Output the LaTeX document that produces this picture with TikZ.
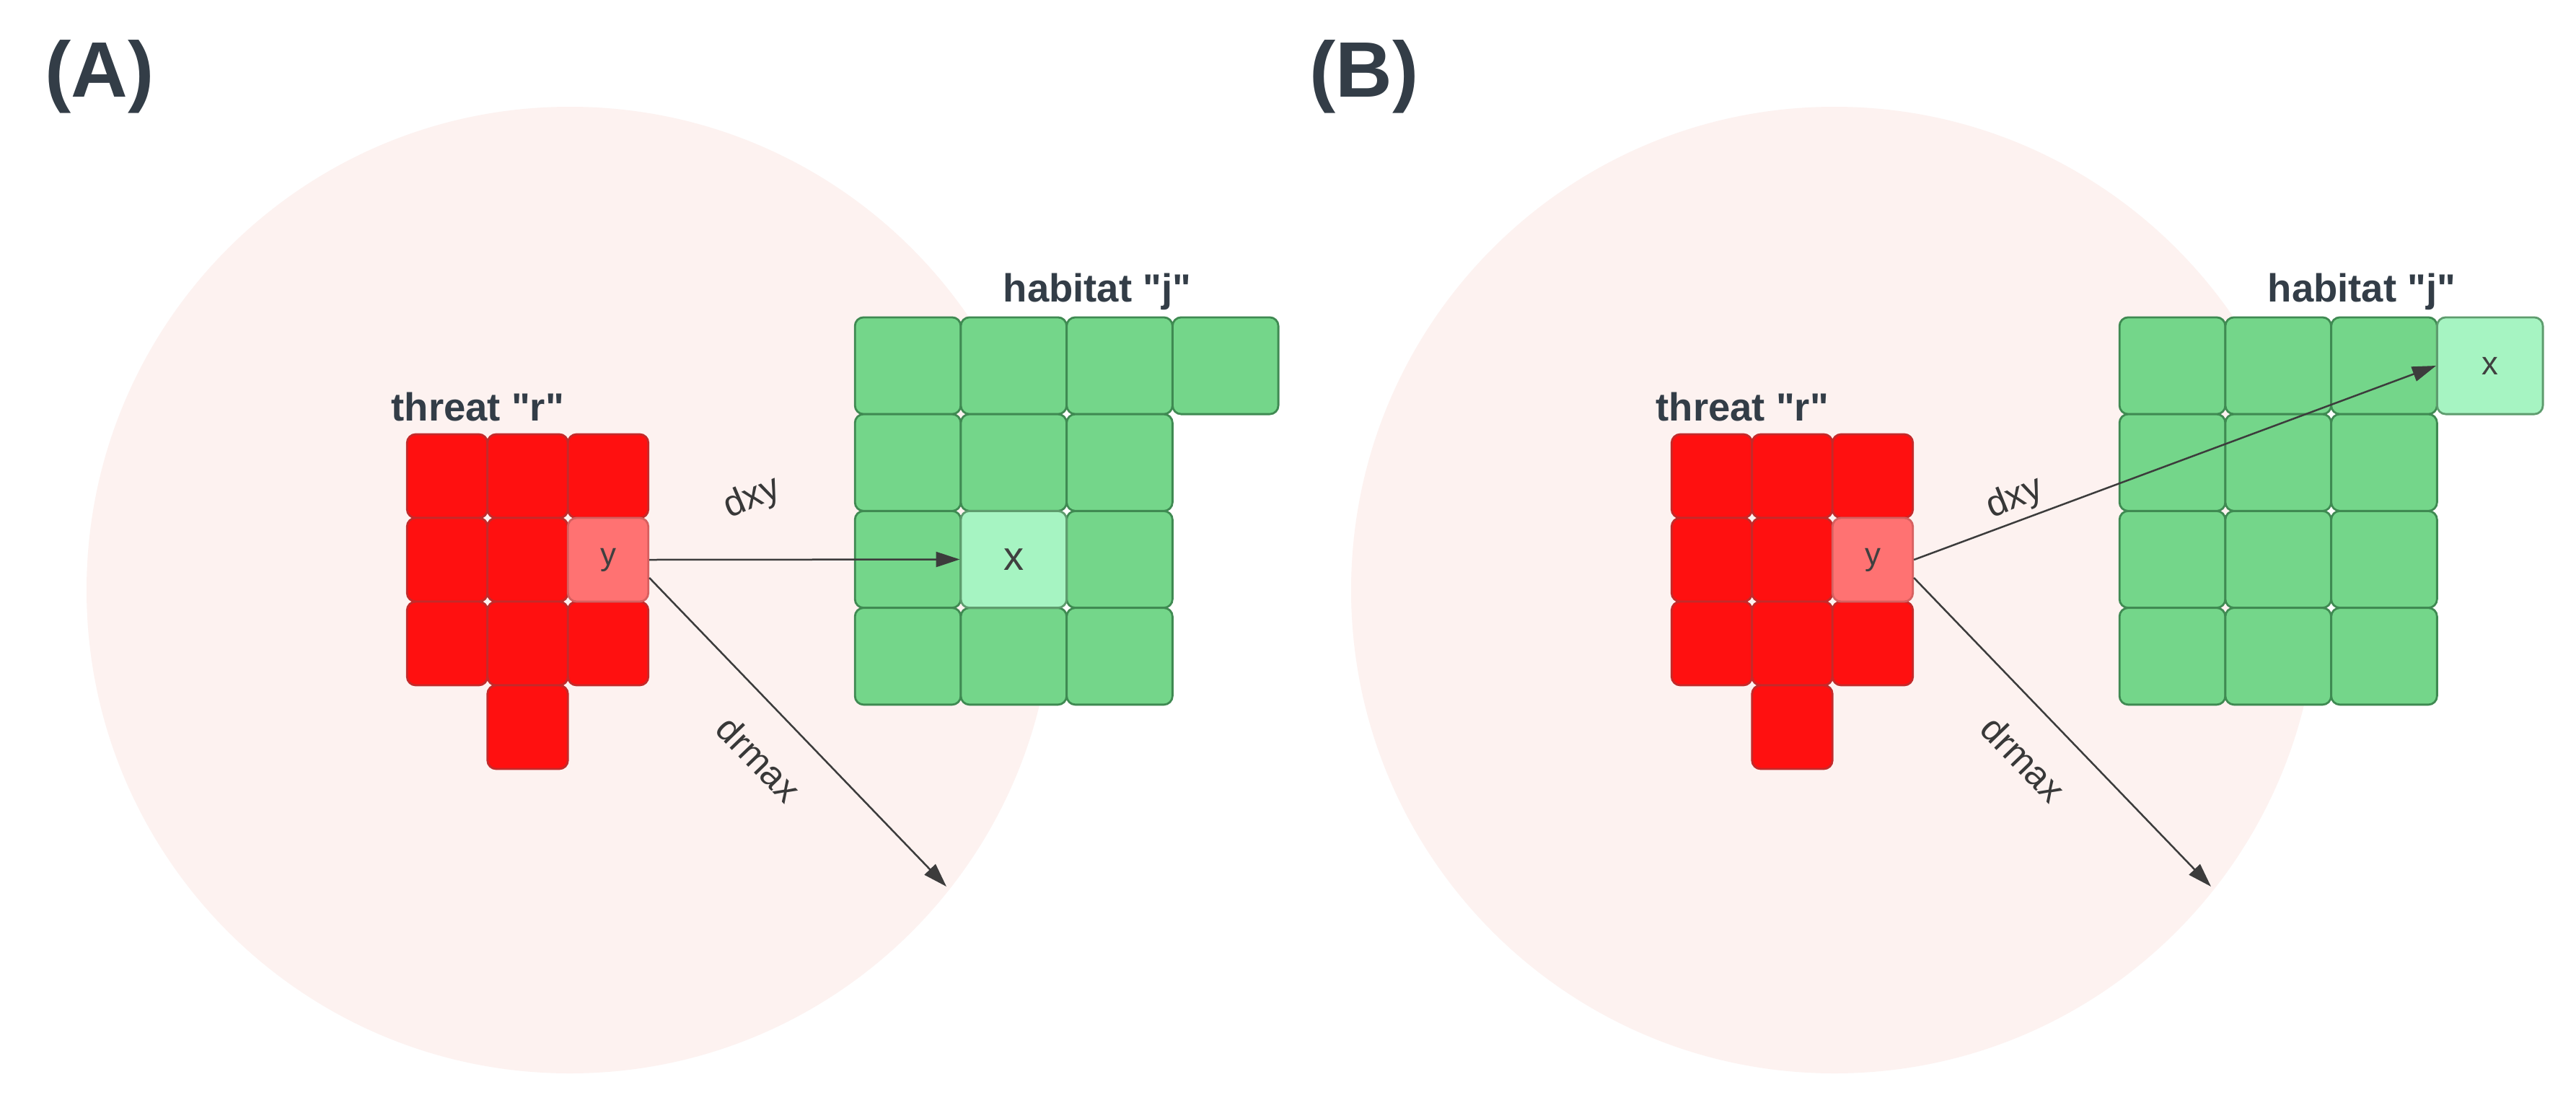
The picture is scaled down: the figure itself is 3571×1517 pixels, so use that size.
\documentclass[tikz,border=0pt]{standalone}
\usepackage{fontspec}
\setmainfont{Liberation Sans}[Ligatures=TeXOff]
\usetikzlibrary{arrows.meta}
\definecolor{pinkbg}{HTML}{FDF2F0}
\definecolor{redfill}{HTML}{FF1010}
\definecolor{redline}{HTML}{C42A2A}
\definecolor{yfill}{HTML}{FF7272}
\definecolor{yline}{HTML}{D66060}
\definecolor{greenfill}{HTML}{74D68A}
\definecolor{greenline}{HTML}{3F8A52}
\definecolor{xfill}{HTML}{A6F4C2}
\definecolor{xline}{HTML}{5E9C6E}
\definecolor{txtdark}{HTML}{333D47}
\definecolor{arrcol}{HTML}{3C3C3C}
\tikzset{
  cellbase/.style={rounded corners=1.2mm, line width=0.28mm, inner sep=0pt},
  rcell/.style={cellbase, draw=redline, fill=redfill, minimum width=11.15mm, minimum height=11.6mm},
  ycell/.style={cellbase, draw=yline, fill=yfill, minimum width=11.15mm, minimum height=11.6mm,
    text=black!75, font=\fontsize{12.5}{14}\selectfont},
  gcell/.style={cellbase, draw=greenline, fill=greenfill, minimum width=14.67mm, minimum height=13.42mm},
  xcell/.style={cellbase, draw=xline, fill=xfill, minimum width=14.67mm, minimum height=13.42mm,
    text=black!75},
  arr/.style={draw=arrcol, line width=0.25mm, -{Triangle[length=3.3mm,width=2.1mm]}},
  boldlbl/.style={text=txtdark, font=\fontsize{15.5}{18}\selectfont\bfseries, inner sep=0pt},
  panellbl/.style={text=txtdark, font=\fontsize{31}{36}\selectfont\bfseries, inner sep=0pt},
  dlbl/.style={text=black!78, font=\fontsize{14.5}{17}\selectfont, inner sep=0pt},
}
\begin{document}
\begin{tikzpicture}[x=0.1mm,y=-0.1mm]
\useasboundingbox (0,0) rectangle (3571,1517);
\fill[white] (0,0) rectangle (3571,1517);

% ---------------- Panel A ----------------
\fill[pinkbg] (790,818) circle[radius=67mm];
\node[panellbl, anchor=base west] (Alab) at (62,134) {(A)};

\foreach \r/\c in {1/1,1/2,1/3,2/1,2/2,3/1,3/2,3/3,4/2}
  \node[rcell] (Ar\r\c) at ({620+(\c-1)*111.5},{660+(\r-1)*116}) {};
\node[ycell] (Ay) at (843,776) {y};

\foreach \r/\c in {1/1,1/2,1/3,1/4,2/1,2/2,2/3,3/1,3/3,4/1,4/2,4/3}
  \node[gcell] (Ag\r\c) at ({1258.5+(\c-1)*146.75},{507+(\r-1)*134.25}) {};
\node[xcell, font=\fontsize{16}{18}\selectfont] (Ax) at (1405.25,775.5) {x};

\node[boldlbl, anchor=base west] (Athr) at (542,583) {threat "r"};
\node[boldlbl, anchor=base west] (Ahab) at (1390,418) {habitat "j"};

\coordinate (Aend) at (1312,1229);
\draw[arr] (Ay.east) -- (Ax.west);
\draw[arr] ([yshift=-2.5mm]Ay.east) -- (Aend);
\node[dlbl, rotate=23] (Adxy) at (1043,691) {dxy};
\node[dlbl, rotate=-46] (Adr) at (1052,1052) {drmax};

% ---------------- Panel B ----------------
\begin{scope}[xshift=175.3mm]
\fill[pinkbg] (790,818) circle[radius=67mm];
\node[panellbl, anchor=base west] (Blab) at (62,134) {(B)};

\foreach \r/\c in {1/1,1/2,1/3,2/1,2/2,3/1,3/2,3/3,4/2}
  \node[rcell] (Br\r\c) at ({620+(\c-1)*111.5},{660+(\r-1)*116}) {};
\node[ycell] (By) at (843,776) {y};

\foreach \r/\c in {1/1,1/2,1/3,2/1,2/2,2/3,3/1,3/2,3/3,4/1,4/2,4/3}
  \node[gcell] (Bg\r\c) at ({1258.5+(\c-1)*146.75},{507+(\r-1)*134.25}) {};
\node[xcell, font=\fontsize{13}{15}\selectfont] (Bx) at (1698.75,507) {x};

\node[boldlbl, anchor=base west] (Bthr) at (542,583) {threat "r"};
\node[boldlbl, anchor=base west] (Bhab) at (1390,418) {habitat "j"};

\coordinate (Bend) at (1312,1229);
\draw[arr] (By.east) -- (Bx.west);
\draw[arr] ([yshift=-2.5mm]By.east) -- (Bend);
\node[dlbl, rotate=22] (Bdxy) at (1040,691) {dxy};
\node[dlbl, rotate=-46] (Bdr) at (1052,1052) {drmax};
\end{scope}
\end{tikzpicture}
\end{document}
